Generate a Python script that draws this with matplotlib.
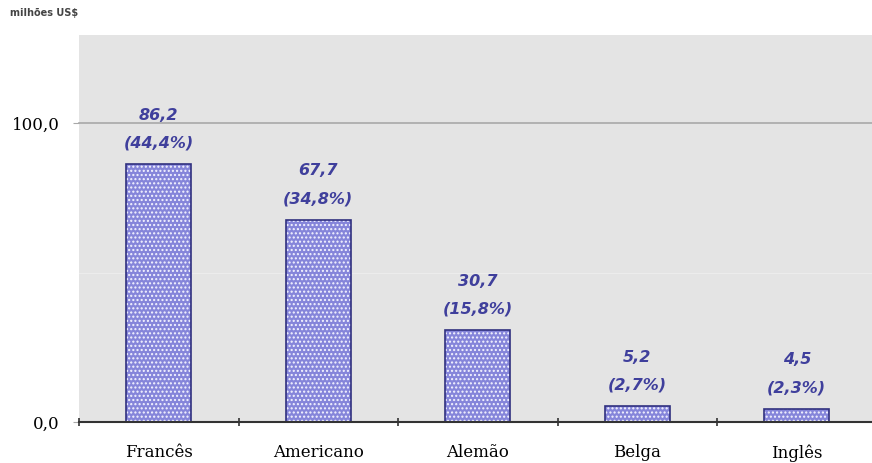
import matplotlib.pyplot as plt

categorias = ["Francês", "Americano", "Alemão", "Belga", "Inglês"]
valores = [86.2, 67.7, 30.7, 5.2, 4.5]
participacao = [44.4, 34.8, 15.8, 2.7, 2.3]


def br(x):
    return f"{x:.1f}".replace(".", ",")


fig = plt.figure(figsize=(8.72, 4.63), dpi=100)
ax = fig.add_axes([79 / 872, 41 / 463, 797.5 / 872, 387 / 463])
ax.set_facecolor("#e4e4e4")

x = range(len(categorias))
# preenchimento pontilhado e contorno desenhados separadamente
ax.bar(x, valores, width=0.41, color="#8585da", edgecolor="#f4f4ff",
       hatch="....", linewidth=0, zorder=3)
ax.bar(x, valores, width=0.41, fill=False, edgecolor="#30307f",
       linewidth=1.2, zorder=4)

rotulo = dict(textcoords="offset pixels", ha="center", va="center",
              fontsize=11.5, fontweight="bold", fontstyle="italic",
              color="#3f3f9c")
for i, (v, p) in enumerate(zip(valores, participacao)):
    ax.annotate(br(v), (i, v), xytext=(0, 49), **rotulo)
    ax.annotate(f"({br(p)}%)", (i, v), xytext=(0, 21), **rotulo)

ax.set_ylim(0, 129.5)
ax.set_xlim(-0.5, 4.5)
ax.axhline(100, color="#a8a8a8", linewidth=1.2, zorder=1, clip_on=False)
ax.axhline(50, color="#ececec", linewidth=0.8, zorder=1)

ax.set_yticks([0, 100])
ax.set_yticklabels(["0,0", "100,0"], fontfamily="DejaVu Serif", fontsize=12)
ax.tick_params(axis="y", length=4, color="#a8a8a8", pad=10)

ax.set_xticks([i - 0.5 for i in range(len(categorias) + 1)])
ax.set_xticklabels([])
ax.set_xticks(list(x), minor=True)
ax.set_xticklabels(categorias, minor=True, fontfamily="DejaVu Serif",
                   fontsize=12)
ax.tick_params(axis="x", which="major", length=6, width=1.2, color="#333333",
               direction="inout")
ax.tick_params(axis="x", which="minor", length=0, pad=16)

for s in ["top", "right", "left"]:
    ax.spines[s].set_visible(False)
ax.spines["bottom"].set_color("#333333")
ax.spines["bottom"].set_linewidth(1.5)
ax.spines["bottom"].set_zorder(5)

fig.text(10 / 872, 1 - 13 / 463, "milhões US$", fontsize=7,
         fontweight="bold", color="#444444", va="center")

fig.savefig("out.png", dpi=100)
